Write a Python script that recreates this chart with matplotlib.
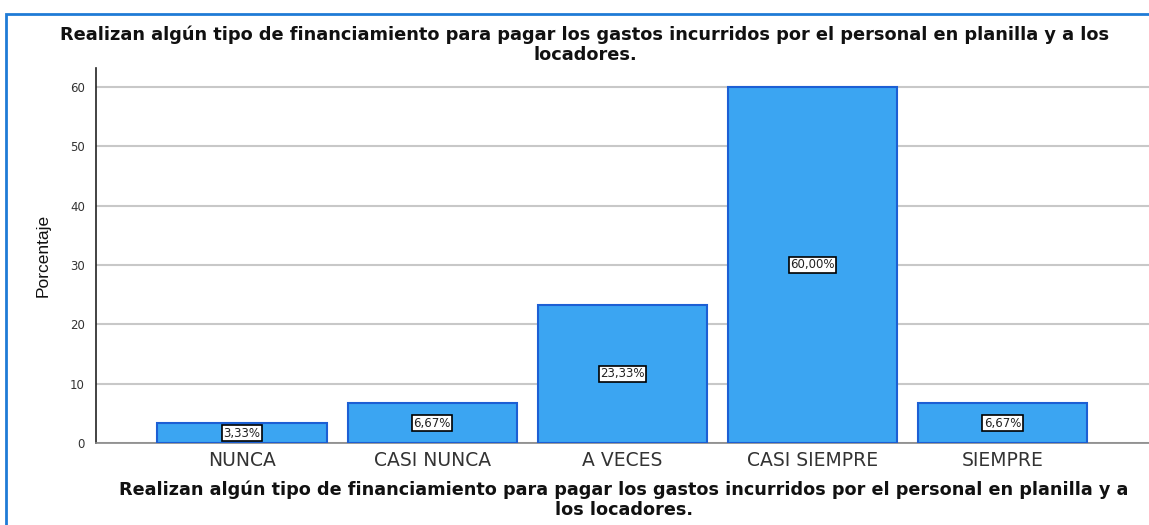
import matplotlib
matplotlib.use("Agg")
import matplotlib.pyplot as plt
from matplotlib.patches import Rectangle

categories = ["NUNCA", "CASI NUNCA", "A VECES", "CASI SIEMPRE", "SIEMPRE"]
values = [3.33, 6.67, 23.33, 60.00, 6.67]
labels = ["3,33%", "6,67%", "23,33%", "60,00%", "6,67%"]
yticks = [0, 10, 20, 30, 40, 50, 60]

title_lines = ["Realizan algún tipo de financiamiento para pagar los gastos incurridos por el personal en planilla y a los",
               "locadores."]
xlabel_lines = ["Realizan algún tipo de financiamiento para pagar los gastos incurridos por el personal en planilla y a",
                "los locadores."]

plt.rcParams['font.family'] = ['DejaVu Sans']

W, H = 1149, 525
fig = plt.figure(figsize=(W / 100, H / 100), dpi=100)
fig.patches.append(Rectangle((6 / W, -0.1), 1.2, 1 - 14 / H + 0.1, transform=fig.transFigure,
                             fill=False, edgecolor="#1f7bd6", linewidth=2))

ax = fig.add_axes([96 / W, 1 - 443 / H, 1 - 96 / W, (443 - 68) / H])
x = list(range(len(categories)))
ax.bar(x, values, width=0.89, color="#3ba5f2", edgecolor="#1c5fd4", linewidth=1.5, zorder=3)
for xi, v, lab in zip(x, values, labels):
    ax.text(xi, v / 2, lab, ha="center", va="center", fontsize=8.5, zorder=4, color="#222222",
            bbox=dict(boxstyle="square,pad=0.12", facecolor="white", edgecolor="black", linewidth=1.2))

ax.set_xlim(-0.768, 4.77)
ax.set_ylim(0, 63.2)
ax.set_yticks(yticks)
ax.set_yticklabels([str(t) for t in yticks], fontsize=8.5, color="#333333")
ax.set_xticks(x)
ax.set_xticklabels(categories, fontsize=13.5, color="#333333")
ax.tick_params(axis="both", length=0)
ax.tick_params(axis="x", pad=6)
ax.tick_params(axis="y", pad=8)
ax.grid(axis="y", color="#c8c8c8", linewidth=1.5, zorder=0)
ax.set_axisbelow(True)
for s in ["top", "right"]:
    ax.spines[s].set_visible(False)
ax.spines["left"].set_color("#222222")
ax.spines["left"].set_linewidth(1.2)
ax.spines["bottom"].set_color("#888888")
ax.spines["bottom"].set_linewidth(1.2)

ax.set_ylabel("Porcentaje", fontsize=12.5, color="#111111", labelpad=14, fontweight="medium",
              family=["Liberation Sans Narrow", "Liberation Sans"])

for i, line in enumerate(title_lines):
    fig.text(585 / W, 1 - (35 + 20 * i) / H, line, ha="center", va="center", fontsize=12.8,
             fontweight="bold", color="#111111")
for i, line in enumerate(xlabel_lines):
    fig.text(624 / W, 1 - (490 + 20 * i) / H, line, ha="center", va="center", fontsize=12.7,
             fontweight="bold", color="#111111")

fig.savefig("out.png", dpi=100)
